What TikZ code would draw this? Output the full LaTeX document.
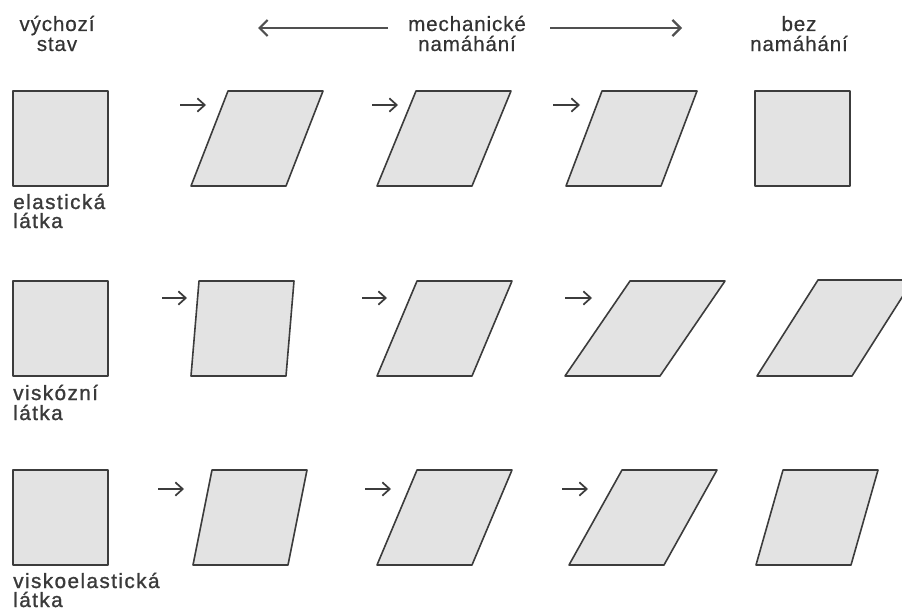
\documentclass[tikz,border=0pt]{standalone}
\usepackage{fontspec}
\setmainfont{Liberation Sans}[LetterSpace=4,FakeBold=0.4]
\newfontfamily\rowfont{Liberation Sans}[LetterSpace=7,FakeBold=1.2]
\usetikzlibrary{arrows.meta}
\definecolor{edgec}{HTML}{3C3C3C}
\definecolor{fillc}{HTML}{E3E3E3}
\definecolor{textc}{HTML}{333333}
\definecolor{rowtextc}{HTML}{3A3A3A}
\tikzset{
  shapebox/.style={draw=edgec, fill=fillc, line width=1.2pt, line join=round},
  pusharrow/.style={draw=edgec, line width=1.3pt, -{Straight Barb[length=5.5pt,width=10pt,line width=1.3pt]}},
  headarrow/.style={draw=edgec!90, line width=1.9pt, -{Straight Barb[length=6pt,width=12pt,line width=1.7pt]}},
  lbl/.style={inner sep=0pt, text=textc, font=\fontsize{15.5}{15.5}\selectfont},
  rowlbl/.style={inner sep=0pt, text=rowtextc, font=\rowfont\fontsize{15.5}{15.5}\selectfont},
}
% \pgram{name}{bottom-left x}{top-left x}{top y}{bottom y}
\newcommand{\pgram}[5]{%
  \draw[shapebox] (#2,#5) coordinate (#1-bl) -- ++(95,0) coordinate (#1-br)
    -- (#3+95,#4) coordinate (#1-tr) -- (#3,#4) coordinate (#1-tl) -- cycle;}
\begin{document}
\begin{tikzpicture}[x=0.75pt,y=-0.75pt]
\useasboundingbox (0,0) rectangle (902,610);
\clip (0,0) rectangle (902,610);

% header
\node[lbl, anchor=base] (h1a) at (57,31) {výchozí};
\node[lbl, anchor=base] (h1b) at (57,51) {stav};
\node[lbl, anchor=base] (h2a) at (467,31) {mechanické};
\node[lbl, anchor=base] (h2b) at (467,51) {namáhání};
\node[lbl, anchor=base] (h3a) at (799,31) {bez};
\node[lbl, anchor=base] (h3b) at (799,51) {namáhání};
\coordinate (la) at (388,28);
\coordinate (lb) at (258,28);
\coordinate (ra) at (550,28);
\coordinate (rb) at (682,28);
\draw[headarrow] (la) -- (lb);
\draw[headarrow] (ra) -- (rb);

% row 1: elastic
\pgram{e0}{13}{13}{91}{186}
\pgram{e1}{191}{228}{91}{186}
\pgram{e2}{377}{416}{91}{186}
\pgram{e3}{566}{602}{91}{186}
\pgram{e4}{755}{755}{91}{186}
\coordinate (ea1) at (180,105); \coordinate (eb1) at (206,105);
\coordinate (ea2) at (372,105); \coordinate (eb2) at (398,105);
\coordinate (ea3) at (553,105); \coordinate (eb3) at (580,105);
\draw[pusharrow] (ea1) -- (eb1);
\draw[pusharrow] (ea2) -- (eb2);
\draw[pusharrow] (ea3) -- (eb3);
\node[rowlbl, anchor=base west] (l1a) at (13,209) {elastická};
\node[rowlbl, anchor=base west] (l1b) at (13,228) {látka};

% row 2: viscous
\pgram{v0}{13}{13}{281}{376}
\pgram{v1}{191}{199}{281}{376}
\pgram{v2}{377}{417}{281}{376}
\pgram{v3}{565}{630}{281}{376}
\pgram{v4}{757}{818}{280}{376}
\coordinate (va1) at (162,298); \coordinate (vb1) at (187,298);
\coordinate (va2) at (362,298); \coordinate (vb2) at (387,298);
\coordinate (va3) at (565,298); \coordinate (vb3) at (592,298);
\draw[pusharrow] (va1) -- (vb1);
\draw[pusharrow] (va2) -- (vb2);
\draw[pusharrow] (va3) -- (vb3);
\node[rowlbl, anchor=base west] (l2a) at (13,400) {viskózní};
\node[rowlbl, anchor=base west] (l2b) at (13,420) {látka};

% row 3: viscoelastic
\pgram{k0}{13}{13}{470}{565}
\pgram{k1}{193}{212}{470}{565}
\pgram{k2}{377}{417}{470}{565}
\pgram{k3}{569}{622}{470}{565}
\pgram{k4}{756}{783}{470}{565}
\coordinate (ka1) at (158,489); \coordinate (kb1) at (184,489);
\coordinate (ka2) at (365,489); \coordinate (kb2) at (391,489);
\coordinate (ka3) at (562,489); \coordinate (kb3) at (588,489);
\draw[pusharrow] (ka1) -- (kb1);
\draw[pusharrow] (ka2) -- (kb2);
\draw[pusharrow] (ka3) -- (kb3);
\node[rowlbl, anchor=base west] (l3a) at (13,588) {viskoelastická};
\node[rowlbl, anchor=base west] (l3b) at (13,607) {látka};
\end{tikzpicture}
\end{document}
